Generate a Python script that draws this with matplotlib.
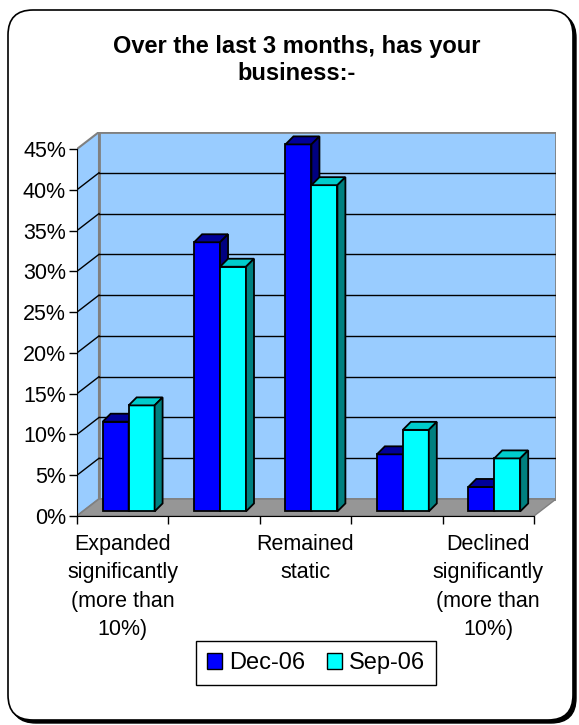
import matplotlib
matplotlib.use("Agg")
import matplotlib.pyplot as plt
import numpy as np
from matplotlib.patches import Polygon, Patch, FancyBboxPatch
from matplotlib.transforms import IdentityTransform

plt.rcParams["font.family"] = "Liberation Sans"

# data
tick_labels = ["Expanded\nsignificantly\n(more than\n10%)", "",
               "Remained\nstatic", "",
               "Declined\nsignificantly\n(more than\n10%)"]
series_names = ["Dec-06", "Sep-06"]
dec06 = [11, 33, 45, 7, 3]
sep06 = [13, 30, 40, 10, 6.5]
yticks = [0, 5, 10, 15, 20, 25, 30, 35, 40, 45]
title = "Over the last 3 months, has your\nbusiness:-"

W, H = 579, 725
fig = plt.figure(figsize=(W / 100, H / 100), dpi=100)
fig.patch.set_facecolor("white")

# rounded border with shadow
shadow = FancyBboxPatch((11, 2), 565, 710, boxstyle="round,pad=0,rounding_size=25",
                        fc="black", ec="black", lw=1, transform=IdentityTransform(), zorder=-10)
frame = FancyBboxPatch((8, 5), 565, 710, boxstyle="round,pad=0,rounding_size=25",
                       fc="white", ec="black", lw=1.2, transform=IdentityTransform(), zorder=-9)
fig.add_artist(shadow)
fig.add_artist(frame)

n = len(dec06)
ymax = yticks[-1]
DX, DY = 0.2407, 2.08  # depth of the floor in data units

ax = fig.add_axes([77 / W, (H - 516) / H, 479 / W, 384 / H])
ax.patch.set_visible(False)
ax.set_xlim(0, n + DX)
ax.set_ylim(0, ymax + DY)

wall = "#99CCFF"
edge = "#808080"
ax.add_patch(Polygon([(0, 0), (0, ymax), (DX, ymax + DY), (DX, DY)],
                     fc=wall, ec=edge, lw=1.5, zorder=0))
ax.add_patch(Polygon([(DX, DY), (n + DX, DY), (n + DX, ymax + DY), (DX, ymax + DY)],
                     fc=wall, ec=edge, lw=2, zorder=0))
for v in yticks[1:-1]:
    ax.plot([DX, n + DX], [v + DY, v + DY], color="black", lw=1, zorder=1)
    ax.plot([0, DX], [v, v + DY], color="black", lw=1, zorder=1)
ax.add_patch(Polygon([(0, 0), (n, 0), (n + DX, DY), (DX, DY)],
                     fc="#969696", ec=edge, lw=1, zorder=1.5))

# bars with a small 3D look
d0 = 0.27
w = 0.284
bdx, bdy = 0.0875, 0.98
base = d0 * DY
centers = np.arange(n) + 0.5 + d0 * DX
series = [(dec06, centers - w / 2, "#0000FF", "#000099", "#000080", 3),
          (sep06, centers + w / 2, "#00FFFF", "#00CCCC", "#008080", 4)]
for vals, xs, front, topc, sidec, z in series:
    ax.bar(xs, vals, w, bottom=base, color=front, edgecolor="black", lw=1.3, zorder=z)
    for x, v in zip(xs, vals):
        xl = x - w / 2
        t = base + v
        ax.add_patch(Polygon([(xl, t), (xl + w, t), (xl + w + bdx, t + bdy), (xl + bdx, t + bdy)],
                             fc=topc, ec="black", lw=1.3, zorder=z))
        ax.add_patch(Polygon([(xl + w, base), (xl + w + bdx, base + bdy),
                              (xl + w + bdx, t + bdy), (xl + w, t)],
                             fc=sidec, ec="black", lw=1.3, zorder=z))

# axes
for s in ["top", "right"]:
    ax.spines[s].set_visible(False)
ax.spines["left"].set_bounds(0, ymax)
ax.spines["bottom"].set_bounds(0, n)
ax.spines["left"].set_zorder(2)
ax.spines["bottom"].set_zorder(2)
ax.set_yticks(yticks)
ax.set_yticklabels([f"{v}%" for v in yticks])
ax.set_xticks(np.arange(n + 1))
ax.set_xticklabels([])
ax.set_xticks(np.arange(n) + 0.5, minor=True)
ax.set_xticklabels(tick_labels, minor=True, linespacing=1.46)
ax.tick_params(axis="both", which="major", length=6, width=1, pad=2, labelsize=15.5)
ax.tick_params(axis="x", which="minor", length=0, pad=13, labelsize=15.5)

fig.text(297 / W, 1 - 35 / H, title, ha="center", va="top",
         fontsize=17, weight="bold", linespacing=1.2)

handles = [Patch(fc="#0000FF", ec="black"), Patch(fc="#00FFFF", ec="black")]
leg = fig.legend(handles, series_names, loc="center", bbox_to_anchor=(316 / W, 1 - 663 / H),
                 ncol=2, fancybox=False, edgecolor="black", fontsize=17,
                 handlelength=0.65, handleheight=0.65, handletextpad=0.3,
                 columnspacing=0.9, borderpad=0.45, borderaxespad=0, framealpha=1)
leg.get_frame().set_linewidth(1)

fig.savefig("out.png", dpi=100)
